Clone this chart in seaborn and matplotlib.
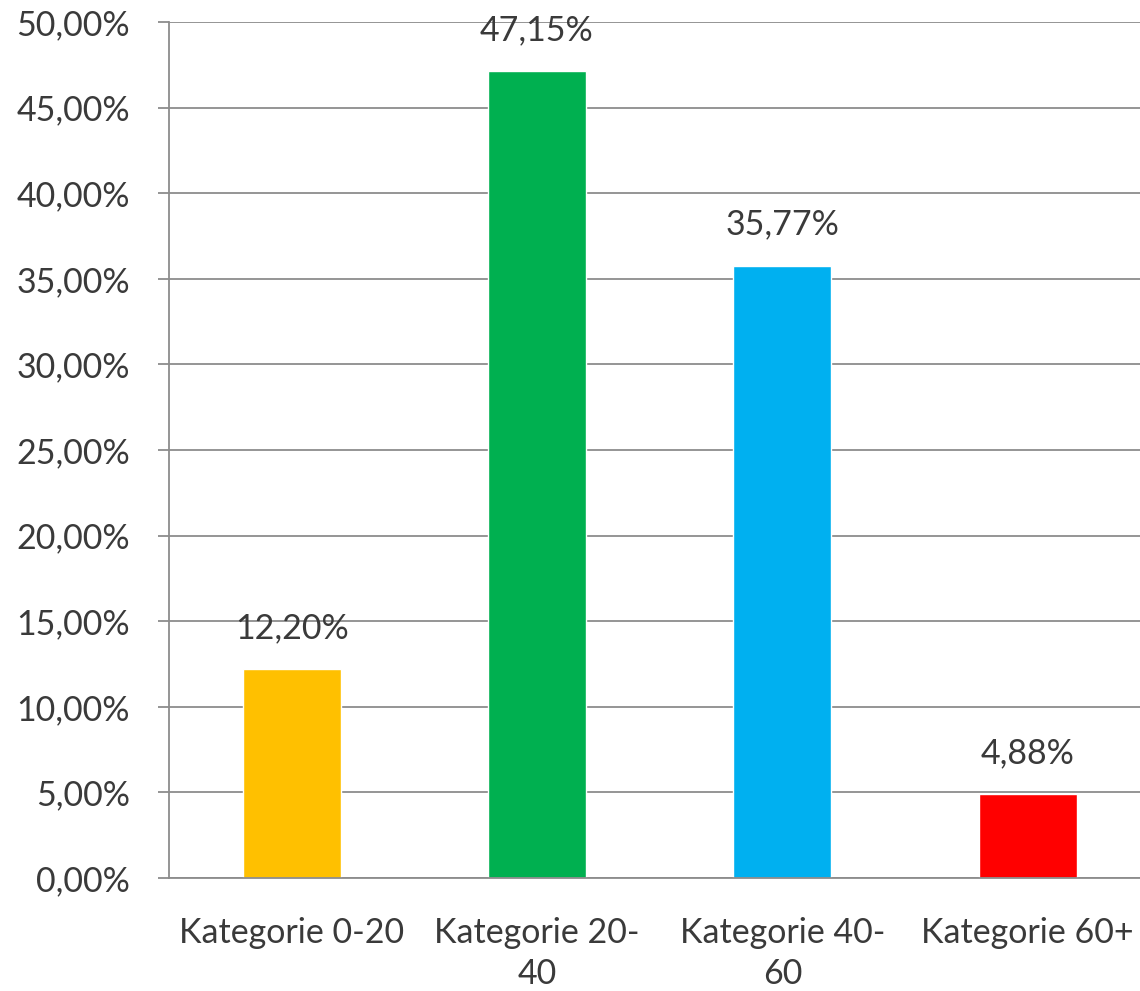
import matplotlib
matplotlib.use("Agg")
import matplotlib.pyplot as plt
import seaborn as sns
import pandas as pd
from matplotlib.ticker import FixedLocator, FuncFormatter

categories = ["Kategorie 0-20", "Kategorie 20-40", "Kategorie 40-60", "Kategorie 60+"]
tick_labels = ["Kategorie 0-20", "Kategorie 20-\n40", "Kategorie 40-\n60", "Kategorie 60+"]
values = [12.20, 47.15, 35.77, 4.88]
colors = ["#FFC000", "#00B050", "#00B0F0", "#FF0000"]

df = pd.DataFrame({"cat": categories, "val": values})

sns.set_style("white")
plt.rcParams["font.family"] = ["Lato", "DejaVu Sans"]
text_color = "#3a3a3a"
grid_color = "#8c8c8c"
fs = 24.5

fig = plt.figure(figsize=(11.4, 9.91), dpi=100)
ax = fig.add_axes([169/1140, 113/991, 1 - 169/1140, (878-22)/991])

sns.barplot(data=df, x="cat", y="val", hue="cat", palette=colors, width=0.4,
            legend=False, ax=ax, saturation=1)

ax.set_ylim(0, 50)
ax.set_xlim(-0.5, 3.458)
ax.set_yticks(range(0, 51, 5))
ax.yaxis.set_major_formatter(FuncFormatter(lambda v, p: f"{v:.2f}%".replace(".", ",")))
ax.yaxis.grid(True, color=grid_color, linewidth=1.3)
ax.set_axisbelow(True)

ax.set_xticks(range(len(categories)))
ax.set_xticklabels(tick_labels, linespacing=1.35)
ax.xaxis.set_minor_locator(FixedLocator([-0.5, 0.5, 1.5, 2.5]))
ax.tick_params(axis="x", which="major", length=0, pad=28, labelsize=fs, colors=text_color)
ax.tick_params(axis="x", which="minor", length=8, width=1.3, color=grid_color, direction="out")
ax.tick_params(axis="y", which="major", length=8, width=1.3, color=grid_color,
               labelsize=fs, labelcolor=text_color, pad=20, left=True)

ax.set_xlabel("")
ax.set_ylabel("")
for s in ["top", "right"]:
    ax.spines[s].set_visible(False)
for s in ["left", "bottom"]:
    ax.spines[s].set_color(grid_color)
    ax.spines[s].set_linewidth(1.3)

for container in ax.containers:
    ax.bar_label(container, labels=[f"{v:.2f}%".replace(".", ",") for v in container.datavalues],
                 padding=18, fontsize=fs, color=text_color)

fig.savefig("out.png", dpi=100)
